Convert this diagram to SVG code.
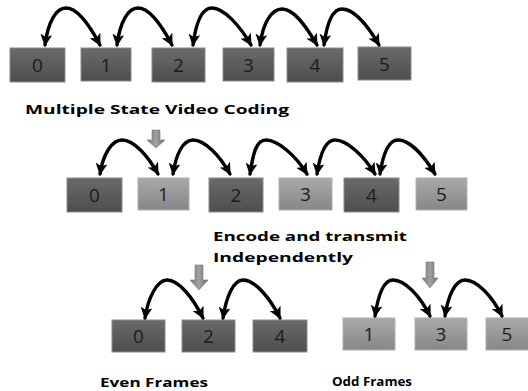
<svg xmlns="http://www.w3.org/2000/svg" width="528" height="391" viewBox="0 0 528 391">
<defs>
<linearGradient id="gd" x1="0" y1="0" x2="0" y2="1"><stop offset="0" stop-color="#6a6a6a"/><stop offset="1" stop-color="#4e4e4e"/></linearGradient>
<linearGradient id="gl" x1="0" y1="0" x2="0" y2="1"><stop offset="0" stop-color="#a9a9a9"/><stop offset="1" stop-color="#878787"/></linearGradient>
<linearGradient id="ga" x1="0" y1="0" x2="1" y2="0"><stop offset="0" stop-color="#7a7a7a"/><stop offset="0.5" stop-color="#a0a0a0"/><stop offset="1" stop-color="#6e6e6e"/></linearGradient>
<marker id="ah" markerUnits="userSpaceOnUse" markerWidth="12" markerHeight="12" viewBox="0 0 10 10" refX="9" refY="5" orient="auto-start-reverse">
<path d="M0,0 L10,5 L0,10 L2.5,5 Z" fill="#000"/>
</marker>
</defs>
<style>
.d{fill:url(#gd);stroke:#8a8a8a;stroke-width:1}
.l{fill:url(#gl);stroke:#b0b0b0;stroke-width:1}
.n{font-family:"Open Sans","DejaVu Sans",sans-serif;font-size:19px;fill:#1c1c1c;text-anchor:middle}
.t{font-family:"Open Sans","DejaVu Sans",sans-serif;font-size:12.5px;font-weight:bold;fill:#000}
.c path{fill:none;stroke:#000;stroke-width:3.4;stroke-linecap:round;marker-start:url(#ah);marker-end:url(#ah)}
.g{fill:url(#ga);stroke:#777;stroke-width:0.6}
</style>
<rect width="528" height="391" fill="#fff"/>

<g id="row1">
<g id="r1f0"><rect class="d" x="10" y="48" width="55" height="34"/><text class="n" x="37.5" y="72">0</text></g>
<g id="r1f1"><rect class="d" x="81" y="48" width="50" height="33"/><text class="n" x="106" y="72">1</text></g>
<g id="r1f2"><rect class="d" x="152" y="48" width="53" height="34"/><text class="n" x="178.5" y="72">2</text></g>
<g id="r1f3"><rect class="d" x="223" y="48" width="51" height="33"/><text class="n" x="248.5" y="72">3</text></g>
<g id="r1f4"><rect class="d" x="287" y="48" width="56" height="34"/><text class="n" x="315" y="72">4</text></g>
<g id="r1f5"><rect class="d" x="358" y="47" width="53" height="33"/><text class="n" x="384.5" y="71">5</text></g>
</g>

<g id="title1"><text class="t" x="25" y="114" textLength="264" lengthAdjust="spacingAndGlyphs">Multiple State Video Coding</text></g>
<g id="arrow1"><path class="g" d="M152,130 H160 V140 H165 L156,148 L147,140 H152 Z"/></g>

<g id="row2">
<g id="r2f0"><rect class="d" x="67" y="178" width="55" height="34"/><text class="n" x="94.5" y="202">0</text></g>
<g id="r2f1"><rect class="l" x="138" y="178" width="51" height="32"/><text class="n" x="163.5" y="201">1</text></g>
<g id="r2f2"><rect class="d" x="209" y="178" width="54" height="34"/><text class="n" x="236" y="202">2</text></g>
<g id="r2f3"><rect class="l" x="279" y="178" width="53" height="32"/><text class="n" x="305.5" y="201">3</text></g>
<g id="r2f4"><rect class="d" x="344" y="178" width="55" height="34"/><text class="n" x="371.5" y="202">4</text></g>
<g id="r2f5"><rect class="l" x="416" y="178" width="51" height="32"/><text class="n" x="441.5" y="201">5</text></g>
</g>

<g id="title2"><text class="t" x="213" y="241" textLength="194" lengthAdjust="spacingAndGlyphs">Encode and transmit</text>
<text class="t" x="213" y="262" textLength="140" lengthAdjust="spacingAndGlyphs">Independently</text></g>
<g id="arrow2"><path class="g" d="M195,265 H203 V280 H208 L199,290 L190,280 H195 Z"/></g>
<g id="arrow3"><path class="g" d="M426,262 H434 V278 H438 L430,288 L422,278 H426 Z"/></g>

<g id="even">
<g id="e0"><rect class="d" x="112" y="320" width="53" height="32"/><text class="n" x="138.5" y="343">0</text></g>
<g id="e2"><rect class="d" x="182" y="320" width="53" height="32"/><text class="n" x="208.5" y="343">2</text></g>
<g id="e4"><rect class="d" x="253" y="320" width="54" height="32"/><text class="n" x="280" y="343">4</text></g>
</g>
<g id="odd">
<g id="o1"><rect class="l" x="343" y="318" width="52" height="32"/><text class="n" x="369" y="341">1</text></g>
<g id="o3"><rect class="l" x="415" y="318" width="52" height="32"/><text class="n" x="441" y="341">3</text></g>
<g id="o5"><rect class="l" x="486" y="318" width="52" height="32"/><text class="n" x="507" y="341">5</text></g>
</g>
<g id="labels"><text class="t" x="100" y="387" font-size="12" textLength="108" lengthAdjust="spacingAndGlyphs">Even Frames</text>
<text class="t" x="332" y="386" font-size="12" textLength="80" lengthAdjust="spacingAndGlyphs">Odd Frames</text></g>

<g id="connectors" class="c">
<path d="M45,45 C48,22 56,8 66,8 C78,8 90,26 100,45"/>
<path d="M117,45 C120,22 128,8 138,8 C150,8 162,26 172,45"/>
<path d="M193,45 C196,22 202,8 212,8 C224,8 240,26 251,45"/>
<path d="M260,45 C263,22 272,9 282,9 C294,9 306,26 317,45"/>
<path d="M324,45 C327,22 333,9 342,9 C354,9 368,26 379,45"/>

<path d="M100,174 C103,154 112,140 122,140 C134,140 148,156 158,174"/>
<path d="M173,174 C176,154 183,140 193,140 C205,140 220,156 230,174"/>
<path d="M250,174 C253,154 256,140 266,140 C278,140 296,156 307,174"/>
<path d="M317,174 C320,154 325,140 335,140 C347,140 364,156 375,174"/>
<path d="M380,174 C383,154 388,140 398,140 C410,140 424,156 435,174"/>

<path d="M145,318 C148,298 157,280 167,280 C179,280 193,298 203,318"/>
<path d="M223,318 C226,298 233,280 243,280 C255,280 270,298 280,318"/>
<path d="M375,316 C378,296 383,280 393,280 C405,280 420,296 430,316"/>
<path d="M445,316 C448,296 455,280 465,280 C477,280 492,296 502,316"/>
</g>
</svg>
